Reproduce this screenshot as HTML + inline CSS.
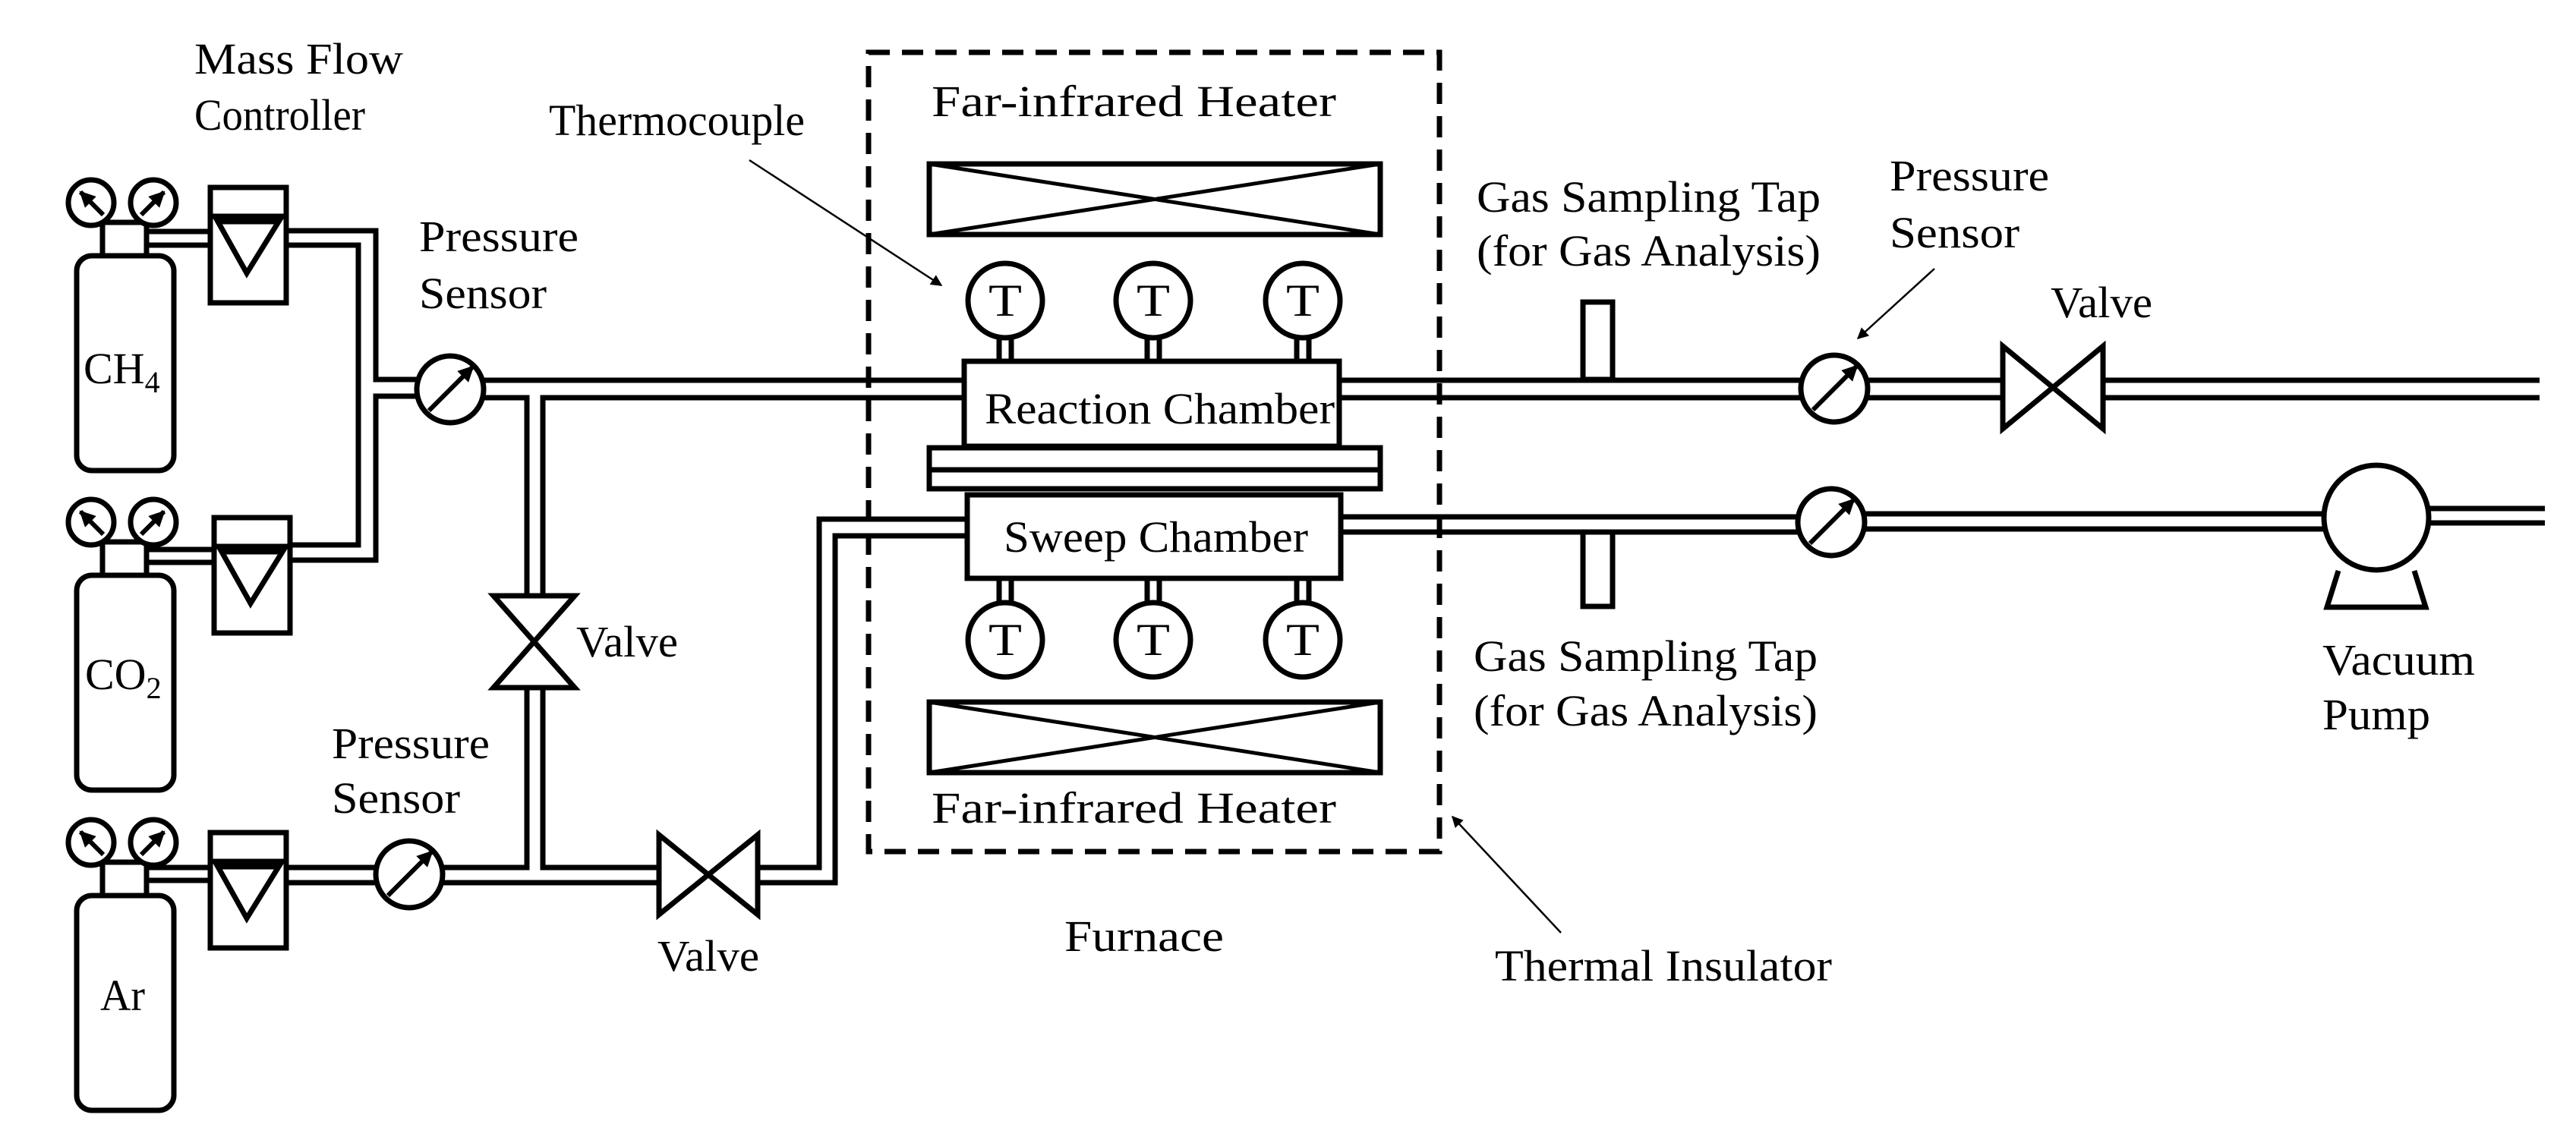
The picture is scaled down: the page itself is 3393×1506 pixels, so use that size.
<!DOCTYPE html>
<html><head><meta charset="utf-8"><style>html,body{margin:0;padding:0;background:#fff}svg{display:block}</style></head><body>
<svg width="3393" height="1506" viewBox="0 0 3393 1506" xmlns="http://www.w3.org/2000/svg">
<defs>
<marker id="ah" viewBox="0 0 10 10" refX="9" refY="5" markerWidth="6" markerHeight="6" orient="auto-start-reverse"><path d="M0,0 L10,5 L0,10 z" fill="#000"/></marker>
<marker id="ah2" viewBox="0 0 10 10" refX="9" refY="5" markerWidth="3.5" markerHeight="3.5" orient="auto"><path d="M0,0 L10,5 L0,10 z" fill="#000"/></marker>
<g id="cyl">
<rect x="101" y="0" width="128" height="283" rx="20" fill="none" stroke="#000" stroke-width="7"/>
<rect x="135" y="-44" width="58" height="44" fill="none" stroke="#000" stroke-width="7"/>
<circle cx="120" cy="-70" r="30" fill="#fff" stroke="#000" stroke-width="7"/>
<circle cx="202" cy="-70" r="30" fill="#fff" stroke="#000" stroke-width="7"/>
<line x1="136" y1="-54" x2="106" y2="-84" stroke="#000" stroke-width="6" marker-end="url(#ah2)"/>
<line x1="186" y1="-54" x2="216" y2="-84" stroke="#000" stroke-width="6" marker-end="url(#ah2)"/>
</g>
<g id="mfc">
<rect x="0" y="0" width="100" height="152" fill="none" stroke="#000" stroke-width="7"/>
<line x1="0" y1="38" x2="100" y2="38" stroke="#000" stroke-width="7"/>
<path d="M10,45 L90,45 L48,113 z" fill="none" stroke="#000" stroke-width="7"/>
</g>
<g id="ps">
<circle cx="0" cy="0" r="44" fill="#fff" stroke="#000" stroke-width="7"/>
<line x1="-28" y1="28" x2="30" y2="-30" stroke="#000" stroke-width="6" marker-end="url(#ah2)"/>
</g>
<g id="tc">
<circle cx="0" cy="0" r="49" fill="#fff" stroke="#000" stroke-width="7"/>
<text x="0" y="20" text-anchor="middle" font-family="Liberation Serif, serif" font-size="60" textLength="44" lengthAdjust="spacingAndGlyphs">T</text>
</g>
</defs>
<g fill="none" stroke="#000" stroke-width="7">
<use href="#cyl" y="337"/>
<use href="#cyl" y="758"/>
<use href="#cyl" y="1180"/>
<use href="#mfc" x="277" y="247"/>
<use href="#mfc" x="282" y="682"/>
<use href="#mfc" x="277" y="1097"/>
<path d="M193,305 H277 M193,323 H277"/>
<path d="M377,304 H495 V500 H549 M377,323 H472 V718 H382"/>
<path d="M549,522 H495 V738 H382"/>
<path d="M193,724 H282 M193,741 H282"/>
<path d="M193,1143 H277 M193,1160 H277"/>
<path d="M377,1143 H495 M377,1163 H495"/>
<path d="M583,1143 H694 V908 M583,1163 H868"/>
<path d="M715,908 V1143 H868"/>
<path d="M637,501 H1270 M637,524 H694 V783 M715,783 V524 H1270"/>
<path d="M650,785 H757 L650,906 H757 Z"/>
<path d="M868,1100 V1205 L998,1100 V1205 Z"/>
<path d="M998,1163 H1100 V706 H1274 M998,1143 H1079 V684 H1274"/>
</g>
<use href="#ps" x="593" y="513"/>
<use href="#ps" x="539" y="1152"/>
<rect x="1144" y="69" width="752" height="1053" fill="none" stroke="#000" stroke-width="7" stroke-dasharray="28,16"/>
<g fill="none" stroke="#000" stroke-width="7">
<rect x="1224" y="216" width="594" height="93"/>
<path d="M1224,216 L1818,309 M1224,309 L1818,216" stroke-width="5"/>
<rect x="1224" y="925" width="594" height="93"/>
<path d="M1224,925 L1818,1018 M1224,1018 L1818,925" stroke-width="5"/>
<rect x="1270" y="476" width="494" height="112"/>
<rect x="1224" y="590" width="594" height="54"/>
<line x1="1224" y1="619" x2="1818" y2="619"/>
<rect x="1274" y="652" width="492" height="110"/>
<path d="M1316,444 V476 M1332,444 V476 M1511,444 V476 M1527,444 V476 M1708,444 V476 M1724,444 V476"/>
<path d="M1316,762 V795 M1332,762 V795 M1511,762 V795 M1527,762 V795 M1708,762 V795 M1724,762 V795"/>
<path d="M1764,501 H2372 M1764,524 H2372"/>
<path d="M2460,501 H2638 M2460,524 H2638"/>
<path d="M2770,501 H3345 M2770,524 H3345"/>
<path d="M2638,456 V565 L2770,456 V565 Z"/>
<path d="M1766,681 H2368 M1766,701 H2368"/>
<path d="M2456,677 H3061 M2456,697 H3061"/>
<path d="M3199,670 H3352 M3199,689 H3352"/>
<circle cx="3130" cy="682" r="69" fill="#fff"/>
<path d="M3080,752 L3065,800 H3195 L3180,752" />
<rect x="2085" y="398" width="39" height="102" fill="#fff"/>
<rect x="2085" y="701" width="39" height="98" fill="#fff"/>
</g>
<use href="#tc" x="1324" y="396"/>
<use href="#tc" x="1519" y="396"/>
<use href="#tc" x="1716" y="396"/>
<use href="#tc" x="1324" y="843"/>
<use href="#tc" x="1519" y="843"/>
<use href="#tc" x="1716" y="843"/>
<use href="#ps" x="2416" y="512"/>
<use href="#ps" x="2412" y="688"/>
<g stroke="#000" stroke-width="2.5" fill="none">
<line x1="987" y1="211" x2="1240" y2="376" marker-end="url(#ah)"/>
<line x1="2056" y1="1229" x2="1913" y2="1076" marker-end="url(#ah)"/>
<line x1="2548" y1="354" x2="2447" y2="446" marker-end="url(#ah)"/>
</g>
<g font-family="Liberation Serif, serif" font-size="58" fill="#000" lengthAdjust="spacingAndGlyphs">
<text x="256" y="97" textLength="275" lengthAdjust="spacingAndGlyphs">Mass Flow</text>
<text x="256" y="171" textLength="225" lengthAdjust="spacingAndGlyphs">Controller</text>
<text x="723" y="178" textLength="337" lengthAdjust="spacingAndGlyphs">Thermocouple</text>
<text x="552" y="331" textLength="210" lengthAdjust="spacingAndGlyphs">Pressure</text>
<text x="552" y="406" textLength="168" lengthAdjust="spacingAndGlyphs">Sensor</text>
<text x="759" y="865" textLength="134" lengthAdjust="spacingAndGlyphs">Valve</text>
<text x="437" y="999" textLength="208" lengthAdjust="spacingAndGlyphs">Pressure</text>
<text x="437" y="1071" textLength="169" lengthAdjust="spacingAndGlyphs">Sensor</text>
<text x="866" y="1279" textLength="134" lengthAdjust="spacingAndGlyphs">Valve</text>
<text x="110" y="505">CH<tspan font-size="40" dy="12">4</tspan></text>
<text x="112" y="908">CO<tspan font-size="40" dy="12">2</tspan></text>
<text x="132" y="1331" textLength="59" lengthAdjust="spacingAndGlyphs">Ar</text>
<text x="1227" y="153" textLength="533" lengthAdjust="spacingAndGlyphs">Far-infrared Heater</text>
<text x="1227" y="1084" textLength="533" lengthAdjust="spacingAndGlyphs">Far-infrared Heater</text>
<text x="1297" y="558" textLength="461" lengthAdjust="spacingAndGlyphs">Reaction Chamber</text>
<text x="1322" y="727" textLength="401" lengthAdjust="spacingAndGlyphs">Sweep Chamber</text>
<text x="1402" y="1253" textLength="210" lengthAdjust="spacingAndGlyphs">Furnace</text>
<text x="1969" y="1292" textLength="444" lengthAdjust="spacingAndGlyphs">Thermal Insulator</text>
<text x="1945" y="279" textLength="453" lengthAdjust="spacingAndGlyphs">Gas Sampling Tap</text>
<text x="1945" y="350" textLength="453" lengthAdjust="spacingAndGlyphs">(for Gas Analysis)</text>
<text x="1941" y="884" textLength="453" lengthAdjust="spacingAndGlyphs">Gas Sampling Tap</text>
<text x="1941" y="956" textLength="453" lengthAdjust="spacingAndGlyphs">(for Gas Analysis)</text>
<text x="2489" y="251" textLength="210" lengthAdjust="spacingAndGlyphs">Pressure</text>
<text x="2489" y="326" textLength="171" lengthAdjust="spacingAndGlyphs">Sensor</text>
<text x="2701" y="418" textLength="134" lengthAdjust="spacingAndGlyphs">Valve</text>
<text x="3059" y="889" textLength="201" lengthAdjust="spacingAndGlyphs">Vacuum</text>
<text x="3059" y="961" textLength="142" lengthAdjust="spacingAndGlyphs">Pump</text>
</g>
</svg>
</body></html>
